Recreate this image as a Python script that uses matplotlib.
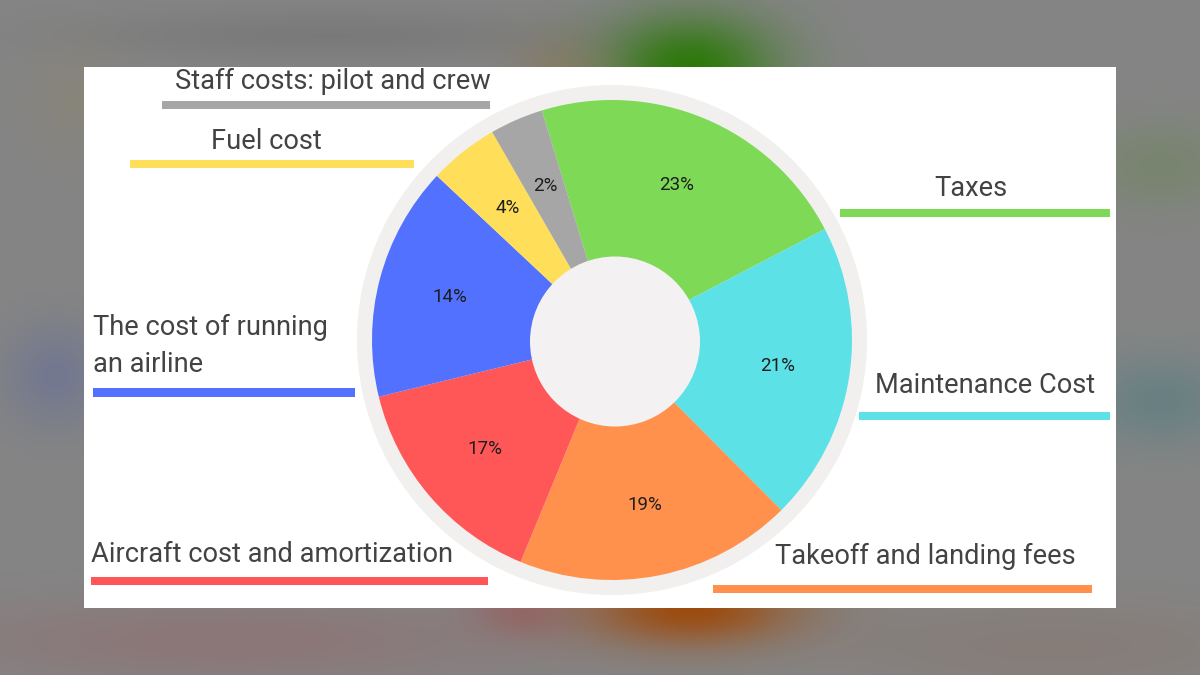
import numpy as np
import matplotlib
matplotlib.use("Agg")
import matplotlib.pyplot as plt
from matplotlib.patches import Rectangle, Circle

# ---------------- data ----------------
categories = ["Taxes", "Maintenance Cost", "Takeoff and landing fees",
              "Aircraft cost and amortization", "The cost of running\nan airline",
              "Fuel cost", "Staff costs: pilot and crew"]
wedge_share = [22.1, 20.2, 18.7, 15.0, 15.8, 4.7, 3.6]   # angular size as drawn
pct_labels = ["23%", "21%", "19%", "17%", "14%", "4%", "2%"]
colors = ["#7ED957", "#5CE1E6", "#FF914D", "#FF5757", "#5271FF", "#FFDE59", "#A6A6A6"]

W, H = 1200, 675
fig = plt.figure(figsize=(12, 6.75), dpi=100)

# ---------------- blurred background ----------------
yy, xx = np.mgrid[0:H, 0:W]
bg = np.ones((H, W, 3)) * np.array([0.52, 0.52, 0.52])

def blob(cx, cy, sx, sy, col, strength):
    g = np.exp(-(((xx - cx) / sx) ** 2 + ((yy - cy) / sy) ** 2) / 2.0) * strength
    return g[..., None], np.array(col)

for bx, by, sx, sy, col, s in [
    (330, 35, 170, 18, (0.46, 0.46, 0.46), 0.7),
    (690, 68, 60, 38, (0.16, 0.47, 0.02), 0.95),
    (560, 70, 35, 25, (0.55, 0.45, 0.30), 0.4),
    (690, 610, 75, 25, (0.62, 0.28, 0.02), 0.95),
    (520, 612, 35, 18, (0.62, 0.30, 0.30), 0.5),
    (230, 640, 200, 30, (0.56, 0.44, 0.45), 0.7),
    (1050, 645, 150, 30, (0.53, 0.47, 0.44), 0.6),
    (55, 375, 35, 35, (0.42, 0.45, 0.58), 0.7),
    (1160, 165, 50, 30, (0.45, 0.52, 0.40), 0.7),
    (1160, 400, 50, 30, (0.38, 0.50, 0.51), 0.8),
    (75, 100, 30, 35, (0.55, 0.52, 0.42), 0.4),
]:
    g, c = blob(bx, by, sx, sy, col, s)
    bg = bg * (1 - g) + c * g

ax_bg = fig.add_axes([0, 0, 1, 1])
ax_bg.imshow(bg, extent=[0, W, H, 0], aspect="auto", interpolation="bilinear")
ax_bg.set_xlim(0, W)
ax_bg.set_ylim(H, 0)
ax_bg.axis("off")

# white panel
ax_bg.add_patch(Rectangle((84, 67), 1116 - 84, 608 - 67, facecolor="white",
                          edgecolor="none", zorder=2))

# ---------------- donut ----------------
cx, cy, R = 612, 340, 240
half = 262
ax = fig.add_axes([(cx - half) / W, (H - cy - half) / H, 2 * half / W, 2 * half / H])
lim = half / R
ax.set_xlim(-lim, lim)
ax.set_ylim(-lim, lim)
ax.set_aspect("equal")
ax.axis("off")

ax.add_patch(Circle((0, 0), 255 / R, facecolor="#F2F0EF", edgecolor="none", zorder=0))
wedges, texts, autotexts = ax.pie(
    wedge_share, colors=colors, startangle=107, counterclock=False,
    radius=1.0, autopct="%d%%", pctdistance=0.70,
    wedgeprops=dict(linewidth=0, edgecolor="none"),
    textprops=dict(fontsize=13.5, color="#1e1e1e", family=["Roboto", "DejaVu Sans"]))
for t, s in zip(autotexts, pct_labels):
    t.set_text(s)
ax.set_xlim(-lim, lim)
ax.set_ylim(-lim, lim)
ax.add_patch(Circle((3 / R, -1.5 / R), 85 / R, facecolor="#F3F1F1",
                    edgecolor="none", zorder=5))

# ---------------- category labels with underline bars ----------------
txt_kw = dict(fontsize=19.6, color="#434343", family=["Roboto", "DejaVu Sans"],
              va="baseline", zorder=5)
# text x, alignment, baseline y per line, bar (x0, x1, y0, y1) in pixels
layout = {
    "Staff costs: pilot and crew": (333, "center", [89], (162, 490, 101, 109)),
    "Fuel cost": (266, "center", [149], (130, 414, 160, 168)),
    "Taxes": (971, "center", [196.5], (840, 1110, 209, 217)),
    "Maintenance Cost": (985, "center", [393], (859, 1110, 412, 420)),
    "The cost of running\nan airline": (93, "left", [335, 372.5], (93, 355, 388, 397)),
    "Aircraft cost and amortization": (91, "left", [562.5], (91, 488, 577, 584.5)),
    "Takeoff and landing fees": (925, "center", [564], (713, 1092, 584.5, 592.5)),
}
for cat, col in zip(categories, colors):
    x, ha, ys, (x0, x1, y0, y1) = layout[cat]
    for line, y in zip(cat.split("\n"), ys):
        ax_bg.text(x, y, line, ha=ha, **txt_kw)
    ax_bg.add_patch(Rectangle((x0, y0), x1 - x0, y1 - y0, facecolor=col,
                              edgecolor="none", zorder=4))

fig.savefig("out.png", dpi=100)
